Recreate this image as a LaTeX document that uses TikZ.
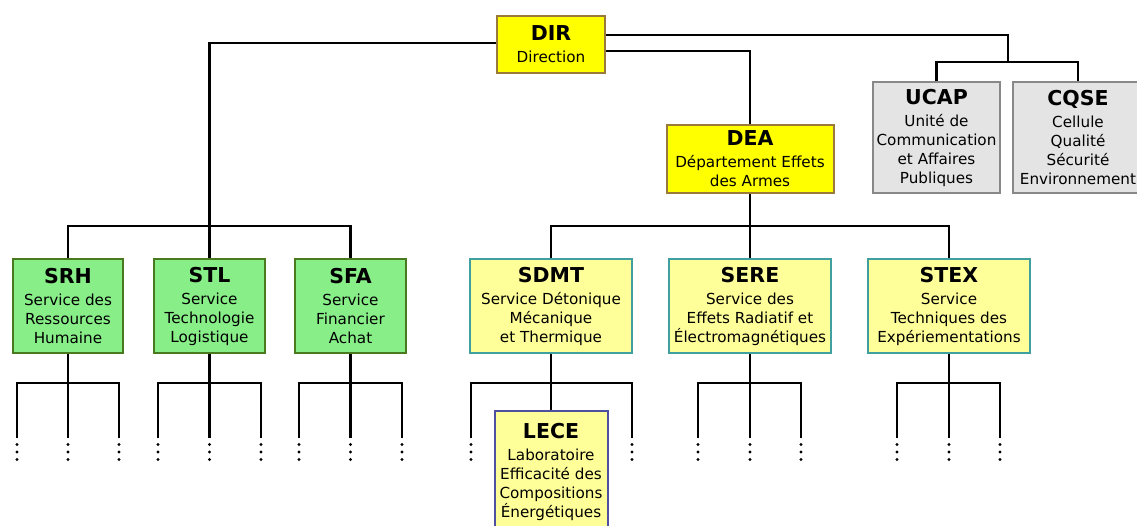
\documentclass[tikz,border=0pt]{standalone}
\usepackage{fontspec}
\setmainfont{DejaVu Sans}
\usetikzlibrary{calc}
\definecolor{dirfill}{HTML}{FFFF00}
\definecolor{dirline}{HTML}{9A7A3A}
\definecolor{grnfill}{HTML}{88EE88}
\definecolor{grnline}{HTML}{4A7A20}
\definecolor{ylwfill}{HTML}{FFFF99}
\definecolor{ylwline}{HTML}{40A0A0}
\definecolor{gryfill}{HTML}{E4E4E4}
\definecolor{gryline}{HTML}{888888}
\definecolor{labline}{HTML}{5050A0}
\newcommand\orgtitle[1]{{\fontsize{20.5}{22}\selectfont\bfseries #1}\\[3pt]}
\newcommand\orgleaves[3]{%
  \coordinate (#1-j) at ($(#1.south)+(0,29)$);
  \coordinate (#1-l) at ($(#1-j)+(-#2,55)$);
  \coordinate (#1-r) at ($(#1-j)+(#3,55)$);
  \coordinate (#1-m) at ($(#1-j)+(0,55)$);
  \draw[conn] (#1-l) |- (#1-j) -| (#1-r);
  \foreach \c in {l,r} {\fill (#1-\c) ++(0,6.5) circle (1.7) ++(0,7.5) circle (1.7) ++(0,7.5) circle (1.7);}
}
\newcommand\orgmid[1]{%
  \draw[conn] (#1.south) -- (#1-m);
  \fill (#1-m) ++(0,6.5) circle (1.7) ++(0,7.5) circle (1.7) ++(0,7.5) circle (1.7);
}
\begin{document}
\begin{tikzpicture}[x=1pt,y=-1pt,
  box/.style={draw, line width=2pt, align=center, inner sep=0pt,
    font=\fontsize{15.2}{19}\selectfont},
  dirbox/.style={box, fill=dirfill, draw=dirline},
  grnbox/.style={box, fill=grnfill, draw=grnline},
  ylwbox/.style={box, fill=ylwfill, draw=ylwline},
  grybox/.style={box, fill=gryfill, draw=gryline},
  labbox/.style={box, fill=ylwfill, draw=labline},
  conn/.style={line width=2.4pt, black}]
\useasboundingbox[fill=white] (0,0) rectangle (1137,525);

\node[dirbox, minimum width=108, minimum height=57] (dir) at (551,44.5) {\orgtitle{DIR}Direction};
\node[dirbox, minimum width=167, minimum height=68] (dea) at (750,159) {\orgtitle{DEA}Département Effets\\des Armes};
\node[grybox, minimum width=127, minimum height=111] (ucap) at (936.5,137.5) {\orgtitle{UCAP}Unité de\\Communication\\et Affaires\\Publiques};
\node[grybox, minimum width=130, minimum height=111] (cqse) at (1078,137.5) {\orgtitle{CQSE}Cellule\\Qualité\\Sécurité\\Environnement};

\node[grnbox, minimum width=110, minimum height=94] (srh) at (68,306) {\orgtitle{SRH}Service des\\Ressources\\Humaine};
\node[grnbox, minimum width=111, minimum height=94] (stl) at (209.5,306) {\orgtitle{STL}Service\\Technologie\\Logistique};
\node[grnbox, minimum width=111, minimum height=94] (sfa) at (350.5,306) {\orgtitle{SFA}Service\\Financier\\Achat};

\node[ylwbox, minimum width=162, minimum height=94] (sdmt) at (551,306) {\orgtitle{SDMT}Service Détonique\\Mécanique\\et Thermique};
\node[ylwbox, minimum width=162, minimum height=94] (sere) at (750,306) {\orgtitle{SERE}Service des\\Effets Radiatif et\\Électromagnétiques};
\node[ylwbox, minimum width=162, minimum height=94] (stex) at (949,306) {\orgtitle{STEX}Service\\Techniques des\\Expériementations};

\node[labbox, minimum width=113, minimum height=122] (lece) at (551,472) {\orgtitle{LECE}Laboratoire\\Efficacité des\\Compositions\\Énergétiques};

% coordinates for junctions
\coordinate (b1) at (209.5,226);
\coordinate (b2) at (1008,62);
\coordinate (b3) at (750,226);

% DIR connections
\draw[conn] ([yshift=1.5pt]dir.west) -| (b1);
\draw[conn] (b1) -- (stl.north);
\draw[conn] (srh.north) |- (b1) -| (sfa.north);
\draw[conn] ([yshift=9.5pt]dir.east) -| (b2);
\draw[conn] (ucap.north) |- (b2) -| (cqse.north);
\draw[conn] ([yshift=-6.5pt]dir.east) -| (dea.north);

% DEA connections
\draw[conn] (dea.south) -- (sere.north);
\draw[conn] (sdmt.north) |- (b3) -| (stex.north);

% leaves
\orgleaves{srh}{51}{51}\orgmid{srh}
\orgleaves{stl}{51.5}{51.5}\orgmid{stl}
\orgleaves{sfa}{51.5}{51.5}\orgmid{sfa}
\orgleaves{sere}{52}{51}\orgmid{sere}
\orgleaves{stex}{52}{51}\orgmid{stex}
\orgleaves{sdmt}{80}{81}
\draw[conn] (sdmt.south) -- (lece.north);
\end{tikzpicture}
\end{document}
